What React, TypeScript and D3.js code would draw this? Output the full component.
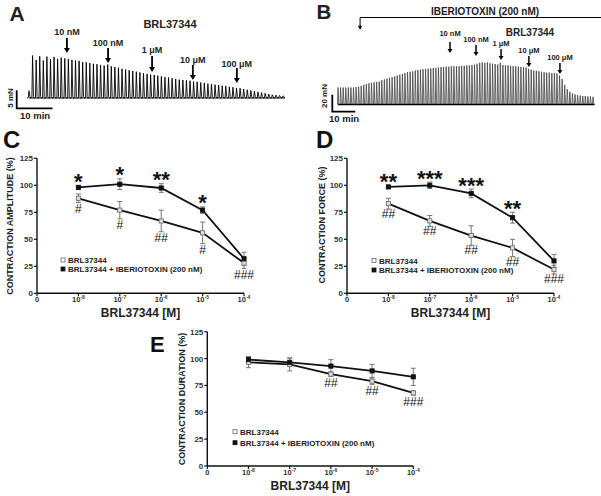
import React from "react";
import * as d3 from "d3";

const FONT = "'Liberation Sans', Arial, Helvetica, sans-serif";

// ---------- shared axis data ----------
const xTickExps = ["-8", "-7", "-6", "-5", "-4"];
const yTicks = [0, 25, 50, 75, 100, 125];
const legendLabels = ["BRL37344", "BRL37344 + IBERIOTOXIN (200 nM)"];
const xAxisTitle = "BRL37344 [M]";

// ---------- panel C: contraction amplitude ----------
const ampBRL = [88, 77, 67, 56, 28];
const ampBRLErr = [4, 8, 10, 10, 5];
const ampIBTX = [98, 101, 97.5, 77, 32];
const ampIBTXErr = [2, 5, 4, 3, 6];
const ampStars = ["*", "*", "**", "*", ""];
const ampHashes = ["#", "#", "##", "#", "###"];

// ---------- panel D: contraction force ----------
const forceBRL = [83, 67, 53.5, 42, 22];
const forceBRLErr = [5, 5, 9, 8, 4];
const forceIBTX = [98.5, 100, 92.5, 70, 30];
const forceIBTXErr = [1.5, 3, 4, 5, 6];
const forceStars = ["**", "***", "***", "**", ""];
const forceHashes = ["##", "##", "##", "##", "###"];

// ---------- panel E: contraction duration ----------
const durBRL = [96.5, 94.5, 85.5, 79, 68];
const durBRLErr = [5, 6, 2, 3, 2];
const durIBTX = [99, 96.5, 93, 88.5, 83];
const durIBTXErr = [3, 4, 6, 6, 8];
const durStars = ["", "", "", "", ""];
const durHashes = ["", "", "##", "##", "###"];

// ---------- panel A: raw trace (peak amplitudes, mN, one per minute) ----------
const traceA = [
  2.0, 11.8, 10.6, 11.6, 10.4, 11.5, 10.8, 11.4, 10.9, 11.2,
  11.0, 10.8, 10.6, 10.4, 10.3, 10.0, 9.9, 9.7, 9.5, 9.4,
  9.2, 9.0, 9.3, 8.8, 8.6, 8.4, 8.1, 7.9, 7.7, 7.5,
  7.3, 7.1, 6.9, 6.7, 6.5, 6.4, 6.2, 6.0, 5.8, 5.7,
  5.5, 5.3, 5.1, 5.0, 4.9, 4.8, 4.6, 4.5, 4.3, 4.2,
  4.0, 3.9, 3.7, 3.6, 3.4, 3.3, 3.1, 3.0, 2.8, 2.7,
  2.5, 2.3, 2.1, 1.9, 1.7, 1.5, 1.3, 1.1, 0.9, 0.8, 0.7, 0.6,
];
const doseTimesA = [10.6, 22.1, 34.4, 45.8, 58.1];
const doseLabels = ["10 nM", "100 nM", "1 \u03bcM", "10 \u03bcM", "100 \u03bcM"];

// ---------- panel B: raw trace (peak amplitudes, mN) ----------
const traceB = [
  20, 20, 20, 20, 20, 20, 20, 20.5, 21, 22,
  23, 24, 25, 25.5, 26, 26.5, 27, 28.5, 29.5, 30.5,
  31.5, 32, 33, 34, 35, 36, 37, 38, 38.5, 39,
  40, 40.5, 41, 41.5, 42, 42, 42.5, 43, 43, 43.5,
  44, 44, 44.5, 44.5, 45, 45, 45, 45, 45.5, 45.5,
  46, 46, 46.5, 47, 48, 49, 49.5, 49, 49.5, 48.5,
  48, 47.5, 47, 49, 46.5, 46, 46, 45.5, 45, 45,
  44.5, 44, 44, 43.5, 42, 41, 40, 39.5, 39, 38.5,
  38, 37.5, 37.5, 37, 37, 36.5, 34, 30, 23, 18,
  15, 13, 12, 11, 10.5, 10, 10, 9.5, 9.5, 9,
];
const peakIntervalB = 1.12; // min
const doseTimesB = [48.7, 60, 70.9, 83, 96.5];
const ibtxStartB = 9.6;

const TXT = "#222";

function Arrow({ x, y1, y2, head = 6, hh = 5, w = 1.8 }: any) {
  return (
    <g>
      <line x1={x} x2={x} y1={y1} y2={y2 - hh + 0.5} stroke="#000" strokeWidth={w} />
      <polygon points={`${x - head / 2},${y2 - hh} ${x + head / 2},${y2 - hh} ${x},${y2}`} fill="#000" />
    </g>
  );
}

function TraceA() {
  const t = d3.scaleLinear().domain([0, traceA.length - 1]).range([29, 283]);
  const y = d3.scaleLinear().domain([0, 12]).range([98, 98 - 12 * 3.6]);
  const pts: [number, number][] = [[t(0) - 2, y(0)]];
  traceA.forEach((h, i) => {
    const xi = t(i);
    pts.push([xi - 0.7, y(0.1)], [xi, y(h)], [xi + 0.9, y(0.4)], [xi + 1.8, y(0)]);
  });
  const line = d3.line();
  const labelBase = [35, 46, 53, 63, 67];
  const arrowTop = [38, 48, 56, 65, 68];
  const arrowTip = [53, 63, 72, 80, 83];
  const sbX = 16.7, sbY = 108.3;
  return (
    <g fontFamily={FONT} fontWeight="bold" fill={TXT}>
      <text x={9.5} y={20.5} fontSize={21}>A</text>
      <text x={170} y={28} fontSize={11} textAnchor="middle">BRL37344</text>
      <path d={line(pts) || ""} fill="none" stroke="#000" strokeWidth={0.9} />
      <line x1={t(0)} x2={t(traceA.length - 1) + 2} y1={y(0)} y2={y(0)} stroke="#000" strokeWidth={1.2} />
      {doseTimesA.map((d, i) => (
        <g key={i}>
          <text x={t(d)} y={labelBase[i]} fontSize={9} textAnchor="middle">{doseLabels[i]}</text>
          <Arrow x={t(d)} y1={arrowTop[i]} y2={arrowTip[i]} />
        </g>
      ))}
      <path d={`M${sbX},${sbY - (y(0) - y(5))}V${sbY}H${sbX + t(10) - t(0)}`} fill="none" stroke="#000" strokeWidth={1.8} />
      <text transform={`translate(${12.5},${98}) rotate(-90)`} fontSize={8} textAnchor="middle">5 mN</text>
      <text x={20} y={119} fontSize={9.5}>10 min</text>
    </g>
  );
}

function TraceB() {
  const t = d3.scaleLinear().domain([0, 112]).range([338, 338 + 112 * 2.3]);
  const y = d3.scaleLinear().domain([0, 50]).range([104.5, 104.5 - 50 * 0.85]);
  const pts: [number, number][] = [[t(0) - 1, y(0)]];
  traceB.forEach((h, i) => {
    const xi = t(i * peakIntervalB);
    pts.push([xi - 0.5, y(0.5)], [xi, y(h)], [xi + 0.8, y(1)], [xi + 1.3, y(0)]);
  });
  const line = d3.line();
  const labelBase = [36, 42, 46, 53, 60];
  const arrowTop = [42, 45, 49, 56, 63];
  const arrowTip = [53, 56, 60, 67, 74];
  const sbX = 332.3, sbY = 111.7;
  const xs = t(ibtxStartB);
  return (
    <g fontFamily={FONT} fontWeight="bold" fill={TXT}>
      <text x={316.5} y={19} fontSize={20.5}>B</text>
      <text x={485} y={15} fontSize={10} textAnchor="middle">IBERIOTOXIN (200 nM)</text>
      <path d={`M601,17.5H${xs}V26`} fill="none" stroke="#000" strokeWidth={1} />
      <Arrow x={xs} y1={25} y2={30} head={4} hh={4} w={1} />
      <text x={530} y={35.5} fontSize={10} textAnchor="middle">BRL37344</text>
      <path d={line(pts) || ""} fill="none" stroke="#4a4a4a" strokeWidth={0.85} />
      <line x1={t(0)} x2={t((traceB.length - 1) * peakIntervalB) + 1.5} y1={y(0)} y2={y(0)} stroke="#000" strokeWidth={1.3} />
      {doseTimesB.map((d, i) => (
        <g key={i}>
          <text x={t(d)} y={labelBase[i]} fontSize={7.5} textAnchor="middle">{doseLabels[i]}</text>
          <Arrow x={t(d)} y1={arrowTop[i]} y2={arrowTip[i]} head={5} hh={4} w={1.5} />
        </g>
      ))}
      <path d={`M${sbX},${sbY - (y(0) - y(20))}V${sbY}H${sbX + t(10) - t(0)}`} fill="none" stroke="#000" strokeWidth={1.8} />
      <text transform={`translate(${326.5},${96}) rotate(-90)`} fontSize={8} textAnchor="middle">20 mN</text>
      <text x={329} y={121.5} fontSize={9.5}>10 min</text>
    </g>
  );
}

function DoseChart(p: any) {
  const x = d3.scaleLinear().domain([0, 5]).range([p.x0, p.x1]);
  const y = d3.scaleLinear().domain([0, 125]).range([p.y0, p.y1]);
  const line = d3.line<number>().x((_, i) => x(i + 1)).y((d) => y(d));
  const series = [
    { v: p.brl, e: p.brlErr, filled: false },
    { v: p.ibtx, e: p.ibtxErr, filled: true },
  ];
  const ms = 4.2;
  return (
    <g fontFamily={FONT}>
      <text x={p.letterX} y={p.letterY} fontSize={p.letterSize} fontWeight="bold" fill="#111">{p.letter}</text>
      {series.map((s, k) => (
        <path key={k} d={line(s.v) || ""} fill="none" stroke="#111" strokeWidth={1.8} />
      ))}
      {series.map((s, k) =>
        s.v.map((v: number, i: number) => {
          const xi = x(i + 1);
          const ya = y(v + s.e[i]);
          const yb = y(v - s.e[i]);
          return (
            <g key={`${k}-${i}`} stroke="#777" strokeWidth={1}>
              <line x1={xi} x2={xi} y1={ya} y2={yb} />
              <line x1={xi - 2.5} x2={xi + 2.5} y1={ya} y2={ya} />
              <line x1={xi - 2.5} x2={xi + 2.5} y1={yb} y2={yb} />
            </g>
          );
        })
      )}
      {series.map((s, k) =>
        s.v.map((v: number, i: number) => (
          <rect key={`m${k}-${i}`} x={x(i + 1) - ms / 2} y={y(v) - ms / 2} width={ms} height={ms}
            fill={s.filled ? "#111" : "#ddd"} stroke={s.filled ? "#111" : "#666"} strokeWidth={0.8} />
        ))
      )}
      <line x1={p.x0} x2={p.x0} y1={p.y0} y2={p.y1} stroke="#111" strokeWidth={1.4} />
      <line x1={p.x0} x2={p.x1} y1={p.y0} y2={p.y0} stroke="#111" strokeWidth={1.4} />
      {yTicks.map((t) => (
        <g key={t}>
          <line x1={p.x0 - 3} x2={p.x0} y1={y(t)} y2={y(t)} stroke="#111" strokeWidth={1.2} />
          <text x={p.x0 - 4} y={y(t) + 3} textAnchor="end" fontSize={8} fontWeight="bold" fill="#333">{t}</text>
        </g>
      ))}
      {[0, 1, 2, 3, 4, 5].map((i) => (
        <g key={`xt${i}`}>
          <line x1={x(i)} x2={x(i)} y1={p.y0} y2={p.y0 + 3} stroke="#111" strokeWidth={1.2} />
          <text x={x(i)} y={p.y0 + 9} textAnchor="middle" fontSize={7.5} fontWeight="bold" fill="#333">
            {i === 0 ? "0" : (<>10<tspan dy={-3} fontSize={5}>{xTickExps[i - 1]}</tspan></>)}
          </text>
        </g>
      ))}
      <text x={(p.x0 + p.x1) / 2} y={p.y0 + 24} textAnchor="middle" fontSize={12} fontWeight="bold" fill={TXT}>{xAxisTitle}</text>
      <text transform={`translate(${p.yLabelX + 3.2},${p.yLabelY}) rotate(-90)`} textAnchor="middle" fontSize={9} fontWeight="bold" fill={TXT}>{p.yLabel}</text>
      {p.stars.map((s: string, i: number) => (
        <text key={`s${i}`} x={x(i + 1)} y={y(p.ibtx[i] + p.ibtxErr[i]) + 3.5} textAnchor="middle" fontSize={22} fontWeight="bold" fill="#111">{s}</text>
      ))}
      {p.hashes.map((s: string, i: number) => (
        <text key={`h${i}`} x={x(i + 1)} y={y(p.brl[i] - p.brlErr[i]) + p.hashOff} textAnchor="middle" fontSize={12} fill="#111">{s}</text>
      ))}
      {legendLabels.map((l, k) => (
        <g key={l}>
          <rect x={p.lx - 2} y={p.ly[k] - 2} width={4} height={4}
            fill={k === 1 ? "#111" : "#fff"} stroke={k === 1 ? "#111" : "#666"} strokeWidth={0.8} />
          <text x={p.lx + 5} y={p.ly[k] + 3} fontSize={8} fontWeight="bold" fill={TXT}>{l}</text>
        </g>
      ))}
    </g>
  );
}

export default function App() {
  return (
    <svg width={601} height={496} style={{ position: "absolute", left: 0, top: 0, background: "#fff" }}>
      <rect width={601} height={496} fill="#fff" />
      <TraceA />
      <TraceB />
      <DoseChart x0={37} x1={244} y0={293.3} y1={158.3}
        brl={ampBRL} brlErr={ampBRLErr} ibtx={ampIBTX} ibtxErr={ampIBTXErr}
        stars={ampStars} hashes={ampHashes} hashOff={10.5}
        letter="C" letterX={3} letterY={148} letterSize={24}
        yLabel="CONTRACTION AMPLITUDE (%)" yLabelX={10} yLabelY={226}
        lx={63} ly={[260, 269]} />
      <DoseChart x0={347} x1={554} y0={293.3} y1={158.3}
        brl={forceBRL} brlErr={forceBRLErr} ibtx={forceIBTX} ibtxErr={forceIBTXErr}
        stars={forceStars} hashes={forceHashes} hashOff={9}
        letter="D" letterX={316} letterY={148} letterSize={24}
        yLabel="CONTRACTION FORCE (%)" yLabelX={322} yLabelY={225}
        lx={374} ly={[260.5, 270]} />
      <DoseChart x0={207.3} x1={413.3} y0={466} y1={331.7}
        brl={durBRL} brlErr={durBRLErr} ibtx={durIBTX} ibtxErr={durIBTXErr}
        stars={durStars} hashes={durHashes} hashOff={10.5}
        letter="E" letterX={150} letterY={352} letterSize={22}
        yLabel="CONTRACTION DURATION (%)" yLabelX={181.7} yLabelY={399}
        lx={235} ly={[431.7, 442.7]} />
    </svg>
  );
}
